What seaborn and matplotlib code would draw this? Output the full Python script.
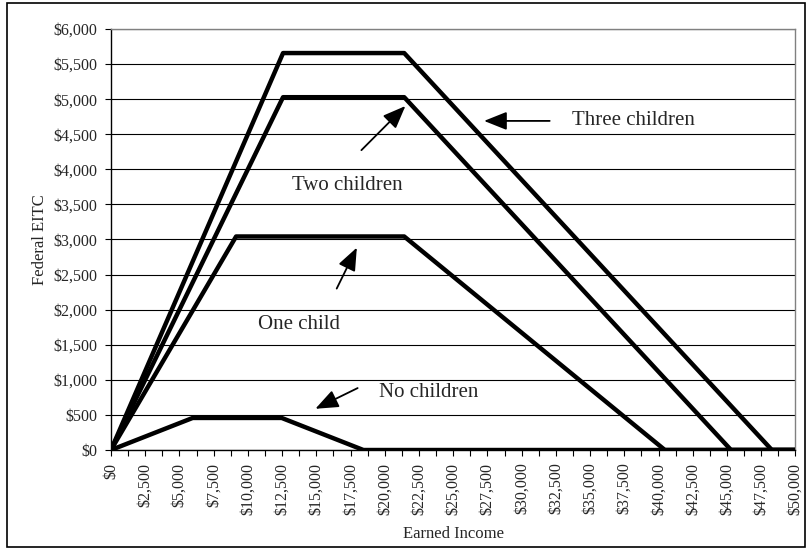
import seaborn as sns
import matplotlib.pyplot as plt
import pandas as pd
import numpy as np
from matplotlib.patches import Rectangle
from matplotlib.ticker import FuncFormatter, MultipleLocator

# 2009 federal EITC schedule (married filing jointly)
groups = ["Three children", "Two children", "One child", "No children"]
income_three = [0, 12570, 21420, 48279, 50000]
credit_three = [0, 5657, 5657, 0, 0]
income_two = [0, 12570, 21420, 45295, 50000]
credit_two = [0, 5028, 5028, 0, 0]
income_one = [0, 9140, 21420, 40463, 50000]
credit_one = [0, 3043, 3043, 0, 0]
income_none = [0, 5970, 12470, 18440, 50000]
credit_none = [0, 457, 457, 0, 0]

x_ticks = np.arange(0, 50001, 2500)
y_ticks = np.arange(0, 6001, 500)

rows = []
for g, xs, ys in zip(groups,
                     [income_three, income_two, income_one, income_none],
                     [credit_three, credit_two, credit_one, credit_none]):
    for i, (a, b) in enumerate(zip(xs, ys)):
        rows.append({"group": g, "order": i, "income": a, "eitc": b})
df = pd.DataFrame(rows)

sns.set_theme(style="white")
plt.rcParams['font.family'] = ['Liberation Serif', 'DejaVu Serif']

fig = plt.figure(figsize=(8.07, 5.5), dpi=100)
ax = fig.add_axes([0.1375, 0.1818, 0.8482, 0.7655])

sns.lineplot(data=df, x="income", y="eitc", hue="group", units="group",
             estimator=None, sort=False, palette=["black"] * 4,
             linewidth=3.2, legend=False, ax=ax, zorder=3)

ax.set_xlim(0, 50000)
ax.set_ylim(0, 6000)
ax.set_xticks(x_ticks)
ax.xaxis.set_minor_locator(MultipleLocator(1250))
ax.set_yticks(y_ticks)
money = FuncFormatter(lambda v, loc: "${:,}".format(int(v)))
ax.xaxis.set_major_formatter(money)
ax.yaxis.set_major_formatter(money)
ax.tick_params(axis="x", which="both", direction="out", length=4, width=0.8,
               color="black", labelsize=11.5, labelrotation=90, pad=5, bottom=True)
ax.tick_params(axis="y", direction="out", length=4, width=0.8,
               color="black", labelsize=11.5, pad=6, left=True)
ax.yaxis.grid(True, color="black", linewidth=0.8)
ax.xaxis.grid(False)
ax.set_axisbelow(True)

for side in ["left", "bottom"]:
    ax.spines[side].set_color("black")
    ax.spines[side].set_linewidth(1.0)
for side in ["top", "right"]:
    ax.spines[side].set_color("#808080")
    ax.spines[side].set_linewidth(1.0)

ax.set_xlabel("Earned Income", fontsize=12, labelpad=8)
ax.set_ylabel("Federal EITC", fontsize=12, labelpad=4)

arrow = dict(arrowstyle="-|>,head_length=0.5,head_width=0.2",
             color="black", lw=1.3, mutation_scale=28)
ax.annotate("", xy=(27050, 4690), xytext=(32250, 4690), arrowprops=arrow)
ax.text(33700, 4690, "Three children", fontsize=15, va="center", ha="left")
ax.annotate("", xy=(21650, 4930), xytext=(18150, 4245), arrowprops=arrow)
ax.text(13230, 3775, "Two children", fontsize=15, va="center", ha="left")
ax.annotate("", xy=(18050, 2920), xytext=(16400, 2265), arrowprops=arrow)
ax.text(10750, 1795, "One child", fontsize=15, va="center", ha="left")
ax.annotate("", xy=(14750, 570), xytext=(18200, 900), arrowprops=arrow)
ax.text(19600, 826, "No children", fontsize=15, va="center", ha="left")

fig.patches.append(Rectangle((7 / 807, 3 / 550), 798 / 807, 544 / 550,
                             transform=fig.transFigure, fill=False,
                             edgecolor="black", linewidth=1.2))

plt.savefig("out.png", dpi=100)
